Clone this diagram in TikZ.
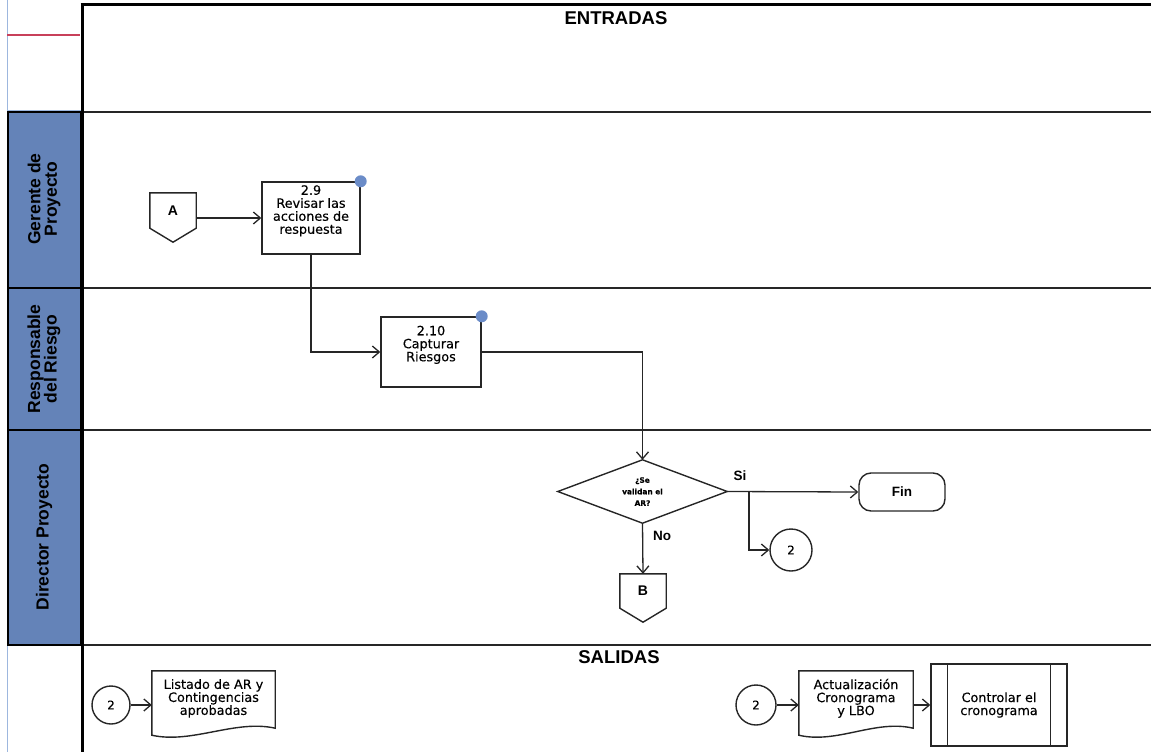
\documentclass[tikz,border=0pt]{standalone}
\usepackage{fontspec}
\setmainfont{Liberation Sans}
\newfontfamily\nodefont[FakeBold=0.25]{DejaVu Sans}
\usetikzlibrary{arrows.meta,calc}

\definecolor{laneblue}{HTML}{6483B8}
\definecolor{dotblue}{HTML}{6B8CC8}
\definecolor{paleblue}{HTML}{9DB7DE}
\definecolor{redline}{HTML}{C8405A}
\definecolor{ink}{HTML}{262626}

\begin{document}
\begin{tikzpicture}[x=1pt,y=-1pt,
  flow/.style={draw=ink, line width=1.3pt, -{Straight Barb[length=7pt,width=12pt]}},
  outline/.style={draw=ink, line width=1.4pt},
  txt/.style={font=\nodefont\fontsize{12.8}{13}\selectfont, align=center, inner sep=1pt},
  stepbox/.style={txt, outline, fill=white},
  plain/.style={txt, draw=none},
  conn/.style={circle, outline, inner sep=0pt, font=\nodefont\fontsize{12}{13}\selectfont},
  tag/.style={font=\bfseries\fontsize{13.5}{14}\selectfont, inner sep=0pt},
  lanelabel/.style={rotate=90, align=center, font=\bfseries\fontsize{17.5}{16.5}\selectfont, text=black},
  header/.style={font=\bfseries\fontsize{18.5}{20}\selectfont, inner sep=0pt},
  lanebox/.style={fill=laneblue, draw=black, line width=1.5pt}
]
\useasboundingbox (0,0) rectangle (1151,752);

% ---- swimlane frame ----
\draw[paleblue, line width=1pt] (7,0) -- (7,110) -- (81,110);
\draw[redline, line width=1.3pt] (7,35) -- (80,35);
\draw[paleblue, line width=1pt] (7,645) -- (7,752);
\draw[lanebox] (8,112) rectangle (81,288);
\draw[lanebox] (8,288) rectangle (81,430);
\draw[lanebox] (8,430) rectangle (81,645);
\foreach \yy in {112,288,430,645}
  \draw[ink, line width=1.6pt] (82,\yy) -- (1151,\yy);
\draw[black, line width=3pt] (80.5,5) -- (1151,5);
\draw[black, line width=3pt] (82,5) -- (82,752);

\node[lanelabel] (lg) at (44,199) {Gerente de\\Proyecto};
\node[lanelabel] (lr) at (44,359) {Responsable\\del Riesgo};
\node[lanelabel] (ld) at (44,537) {Director Proyecto};

\node[header] (ent) at (616,18) {ENTRADAS};
\node[header] (sal) at (619,657) {SALIDAS};

% ---- process nodes ----
\node[plain, minimum width=46, minimum height=35, font=\bfseries\fontsize{14}{14}\selectfont] (A) at (173,210.5) {A};
\draw[outline] (A.north west) -- (A.north east) -- (A.south east) -- ($(A.south)+(0,14)$) -- (A.south west) -- cycle;

\node[stepbox, minimum width=98, minimum height=72] (r29) at (311,218)
  {2.9\\Revisar las\\acciones de\\respuesta\\[4pt]\mbox{}};
\fill[dotblue] (r29.north east) circle (6pt);

\node[stepbox, minimum width=100, minimum height=70] (r210) at (431,352)
  {2.10\\Capturar\\Riesgos\\[4pt]\mbox{}};
\fill[dotblue] (r210.north east) circle (6pt);

\node[plain, minimum width=169, minimum height=63, inner sep=0pt,
      font=\nodefont\bfseries\fontsize{7.4}{11.5}\selectfont] (dec) at (642.5,491.5)
  {¿Se\\validan el\\AR?};
\draw[outline] (dec.north) -- (dec.east) -- (dec.south) -- (dec.west) -- cycle;

\node[outline, rounded corners=12pt, minimum width=86, minimum height=38,
      font=\bfseries\fontsize{13.5}{14}\selectfont] (fin) at (902,492) {Fin};

\node[conn, minimum size=42] (c1) at (791,550) {2};

\node[plain, minimum width=46, minimum height=34, font=\bfseries\fontsize{14}{14}\selectfont] (B) at (643,591) {B};
\draw[outline] (B.north west) -- (B.north east) -- (B.south east) -- ($(B.south)+(0,14)$) -- (B.south west) -- cycle;

\coordinate (br) at (749,491.5);

% ---- connectors ----
\draw[flow] (A.east |- r29.west) -- (r29.west);
\draw[flow] (r29.south) -- (r29.south |- r210.west) -- (r210.west);
\draw[flow] (r210.east) -| (dec.north);
\draw[flow] (dec.east) -- (fin.west);
\draw[flow] (br) |- (c1.west);
\draw[flow] (dec.south) -- (B.north);

\node[tag] (si) at (740,476) {Si};
\node[tag] (no) at (662,536) {No};

% ---- outputs ----
\node[conn, minimum size=38] (c2) at (111,705) {2};
\node[plain, minimum width=123, minimum height=60] (d1) at (213.5,701)
  {Listado de AR y\\Contingencias\\aprobadas\\[-5pt]\mbox{}};
\draw[outline] (d1.north west) -- (d1.north east) -- ($(d1.south east)+(0,-3)$)
  .. controls +(-40,-9) and +(40,9) .. ($(d1.south west)+(0,4)$) -- cycle;

\node[conn, minimum size=40] (c3) at (756,705) {2};
\node[plain, minimum width=114, minimum height=60] (d2) at (856,701)
  {Actualización\\Cronograma\\y LBO\\[-5pt]\mbox{}};
\draw[outline] (d2.north west) -- (d2.north east) -- ($(d2.south east)+(0,-3)$)
  .. controls +(-38,-9) and +(38,9) .. ($(d2.south west)+(0,4)$) -- cycle;

\node[stepbox, minimum width=136, minimum height=82] (pp) at (999,705)
  {Controlar el\\cronograma};
\draw[outline] ($(pp.north west)+(17,0)$) -- ($(pp.south west)+(17,0)$);
\draw[outline] ($(pp.north east)+(-17,0)$) -- ($(pp.south east)+(-17,0)$);

\draw[flow] (c2.east) -- (c2.east -| d1.west);
\draw[flow] (c3.east) -- (c3.east -| d2.west);
\draw[flow] (pp.west -| d2.east) -- (pp.west);
\end{tikzpicture}
\end{document}
